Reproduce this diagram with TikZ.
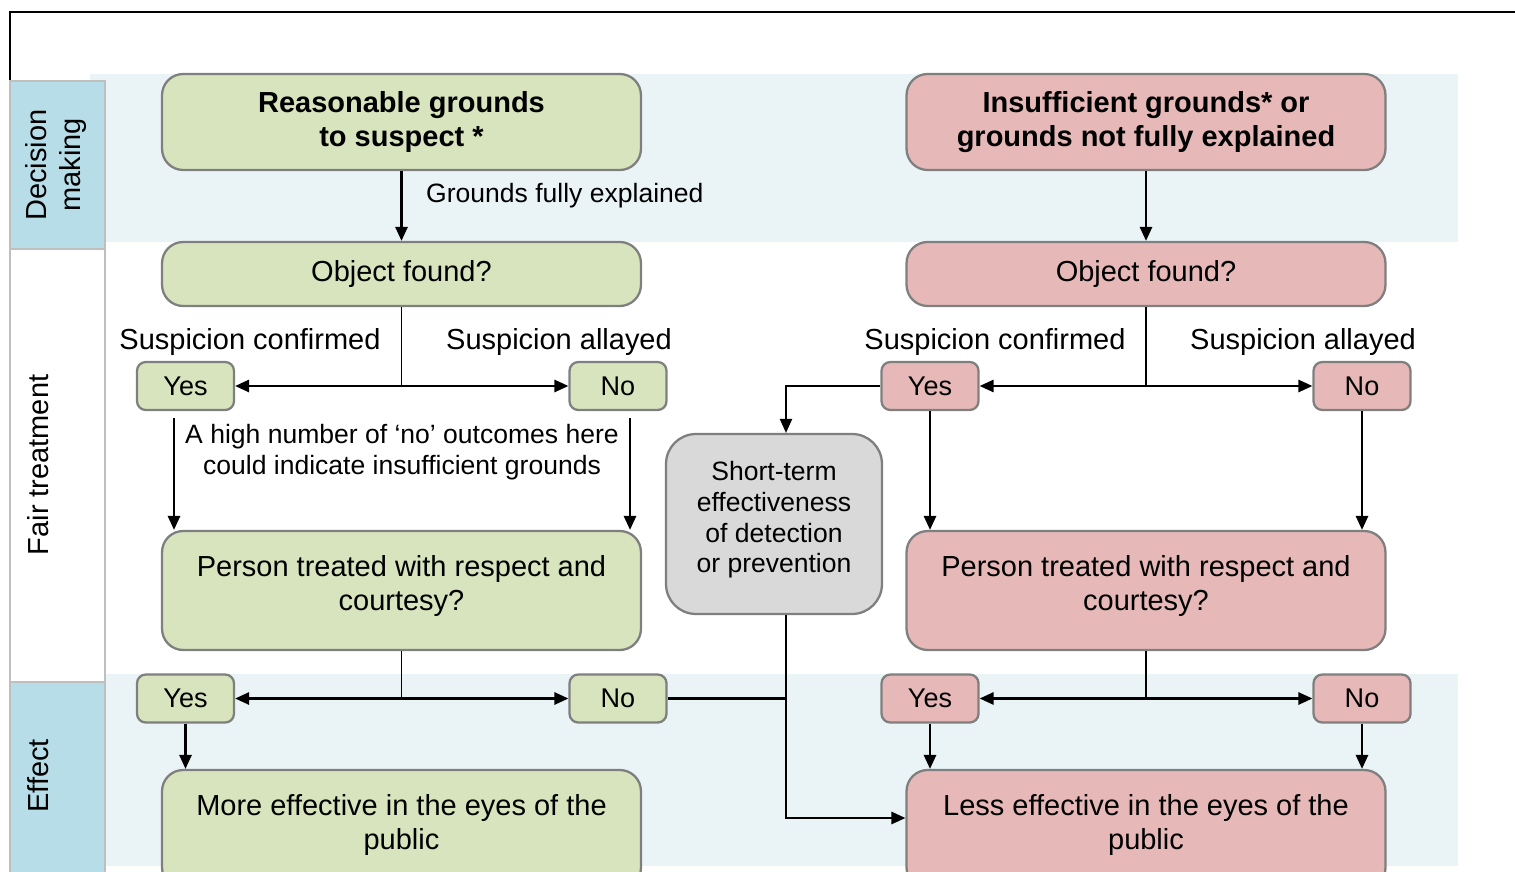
\documentclass[tikz,border=0pt]{standalone}
\usepackage{fontspec}
\setmainfont{Liberation Sans}
\usepackage{tikz}
\usetikzlibrary{arrows.meta}
\definecolor{okgreen}{HTML}{D7E4BD}
\definecolor{badred}{HTML}{E6B9B8}
\definecolor{stgray}{HTML}{D9D9D9}
\definecolor{boxline}{HTML}{7F7F7F}
\definecolor{bandfill}{HTML}{EAF4F7}
\definecolor{sideblue}{HTML}{B7DEE8}
\definecolor{sideline}{HTML}{BFBFBF}

\begin{document}
\begin{tikzpicture}[
		x=0.02cm, y=-0.02cm,
		txt/.style={font=\fontsize{16.5}{19.4}\selectfont},
		note/.style={font=\fontsize{15.1}{17.6}\selectfont,align=center},
		box/.style={draw=boxline,line width=1.3pt,rounded corners=12pt,align=center,inner sep=0pt,txt},
		big/.style={box,minimum width=9.58cm},
		title/.style={big,minimum height=1.92cm,font=\fontsize{16.5}{19.4}\selectfont\bfseries},
		small/.style={box,rounded corners=5pt,minimum width=1.94cm,minimum height=0.96cm,font=\fontsize{15.4}{18}\selectfont},
		side/.style={draw=sideline,line width=1.2pt},
		arr/.style={-{Triangle[length=8pt,width=7pt]},line width=1.2pt},
		stem/.style={line width=0.8pt}]
		\useasboundingbox (0,0) rectangle (1515,872);
		\clip (0,0) rectangle (1515,872);
		% background bands
		\fill[bandfill] (90,74) rectangle (1458,242);
		\fill[bandfill] (90,674) rectangle (1458,866);
		\draw[line width=1pt] (10,81) -- (10,12) -- (1520,12);
		% side labels
		\draw[side,fill=sideblue] (10,81) rectangle (105,249);
		\draw[side,fill=white] (10,249) rectangle (105,682);
		\draw[side,fill=sideblue] (10,682) rectangle (105,900);
		\node[txt,rotate=90,align=center] (dm) at (56,165) {Decision\\making};
		\node[txt,rotate=90] (ft) at (38,465) {Fair treatment};
		\node[txt,rotate=90] (ef) at (38,776) {Effect};
		% left column
		\node[title,fill=okgreen] (rgl) at (401.5,122) {Reasonable grounds\\to suspect *};
		\node[big,fill=okgreen,minimum height=1.28cm] (ofl) at (401.5,274) {Object found?};
		\node[small,fill=okgreen] (yl) at (185.5,386) {\raisebox{-2pt}{Yes}};
		\node[small,fill=okgreen] (nl) at (618,386) {\raisebox{-2pt}{No}};
		\node[big,fill=okgreen,minimum height=2.38cm] (ptl) at (401.5,590.5) {Person treated with respect and\\courtesy?\\[-11pt]\mbox{}};
		\node[small,fill=okgreen] (yel) at (185.5,698.5) {\raisebox{-2pt}{Yes}};
		\node[small,fill=okgreen] (nel) at (618,698.5) {\raisebox{-2pt}{No}};
		\node[big,fill=okgreen,minimum height=2.38cm] (mel) at (401.5,829.5) {More effective in the eyes of the\\public\\[-11pt]\mbox{}};
		% right column
		\node[title,fill=badred] (igr) at (1146,122) {Insufficient grounds* or\\grounds not fully explained};
		\node[big,fill=badred,minimum height=1.28cm] (ofr) at (1146,274) {Object found?};
		\node[small,fill=badred] (yr) at (930,386) {\raisebox{-2pt}{Yes}};
		\node[small,fill=badred] (nr) at (1362,386) {\raisebox{-2pt}{No}};
		\node[big,fill=badred,minimum height=2.38cm] (ptr) at (1146,590.5) {Person treated with respect and\\courtesy?\\[-11pt]\mbox{}};
		\node[small,fill=badred] (yer) at (930,698.5) {\raisebox{-2pt}{Yes}};
		\node[small,fill=badred] (ner) at (1362,698.5) {\raisebox{-2pt}{No}};
		\node[big,fill=badred,minimum height=2.38cm] (ler) at (1146,829.5) {Less effective in the eyes of the\\public\\[-11pt]\mbox{}};
		% middle
		\node[box,fill=stgray,rounded corners=17pt,minimum width=4.32cm,minimum height=3.6cm,font=\fontsize{15.1}{17.6}\selectfont] (st) at (774,524) {Short-term\\effectiveness\\of detection\\or prevention\\[-9.6pt]\mbox{}};
		% labels
		\node[note,anchor=west] (gfe) at (420,196) {Grounds fully explained};
		\node[txt] (scl) at (250,342) {Suspicion confirmed};
		\node[txt] (sal) at (559,342) {Suspicion allayed};
		\node[txt] (scr) at (995,342) {Suspicion confirmed};
		\node[txt] (sar) at (1303,342) {Suspicion allayed};
		\node[note] (hint) at (402,452) {A high number of ‘no’ outcomes here\\could indicate insufficient grounds};
		% connectors
		\coordinate (sl) at (401.5,386);
		\coordinate (sr) at (1146,386);
		\coordinate (el) at (401.5,698.5);
		\coordinate (er) at (1146,698.5);
		\coordinate (yld) at (174,418);
		\coordinate (nld) at (630,418);
		\draw[arr] (rgl) -- (ofl);
		\draw[arr] (igr) -- (ofr);
		\draw[stem] (ofl) -- (sl);
		\draw[arr] (sl) -- (yl);
		\draw[arr] (sl) -- (nl);
		\draw[stem] (ofr) -- (sr);
		\draw[arr] (sr) -- (yr);
		\draw[arr] (sr) -- (nr);
		\draw[arr] (yld) -- (yld |- ptl.north);
		\draw[arr] (nld) -- (nld |- ptl.north);
		\draw[arr] (yr.south) -- (yr.south |- ptr.north);
		\draw[arr] (nr.south) -- (nr.south |- ptr.north);
		\draw[arr,line width=0.8pt] (yr.west) -| ([xshift=0.24cm]st.north);
		\draw[stem] (ptl) -- (el);
		\draw[arr] (el) -- (yel);
		\draw[arr] (el) -- (nel);
		\draw[stem] (ptr) -- (er);
		\draw[arr] (er) -- (yer);
		\draw[arr] (er) -- (ner);
		\draw[arr] (yel) -- (yel |- mel.north);
		\draw[arr] (yer) -- (yer |- ler.north);
		\draw[arr] (ner) -- (ner |- ler.north);
		\draw[arr] ([xshift=0.24cm]st.south) |- ([yshift=0.23cm]ler.west);
		\draw[line width=1.2pt] (nel.east) -- ([xshift=0.24cm]st.south |- nel.east);
\end{tikzpicture}
\end{document}
